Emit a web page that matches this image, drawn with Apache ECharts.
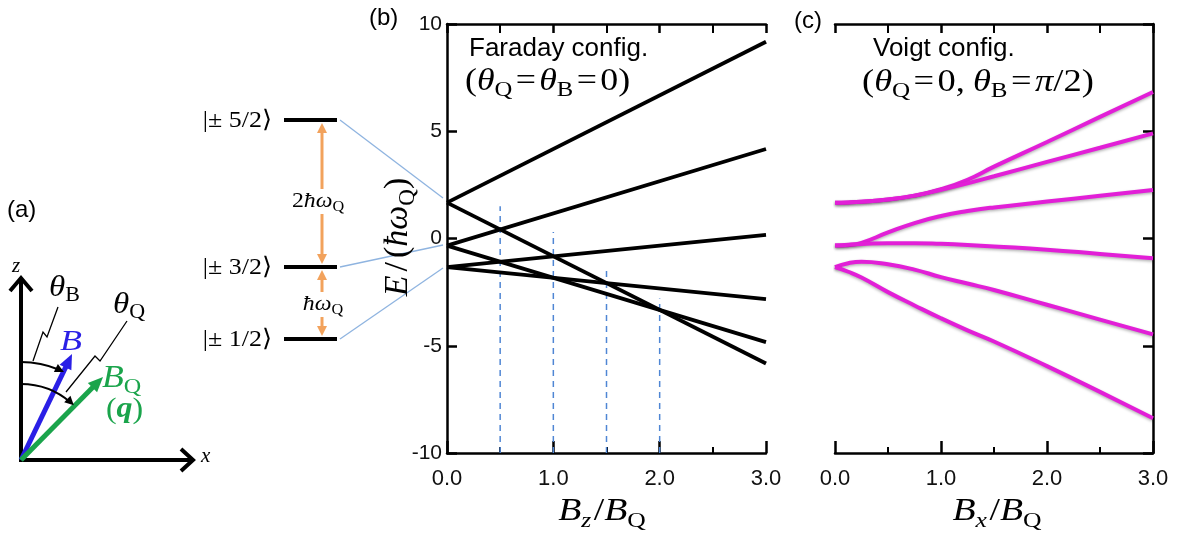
<!DOCTYPE html>
<html>
<head>
<meta charset="utf-8">
<script src="https://cdn.jsdelivr.net/npm/echarts@6/dist/echarts.min.js"></script>
<style>
  html, body { margin: 0; padding: 0; background: #fff; }
  #main { width: 1180px; height: 535px; }
</style>
</head>
<body>
<div id="main"></div>
<script>
// Nuclear spin I = 5/2 : energy levels in units of ħω_Q versus field (units of B_Q)
const fieldRange = [0, 3];
const energyRange = [-10, 10];
const energyStep = 5;
const fieldStep = 1;

// Faraday geometry (field along the quadrupole axis): straight levels
const faradayAtZero = [1.67, 1.67, -0.33, -0.33, -1.33, -1.33];
const faradayAtMax  = [9.17, -5.83, 4.17, -4.83, 0.17, -2.83];

// level crossings marked by dashed guides
const crossingB = [0.5, 1.0, 1.5, 2.0];
const guideTop  = [1.5, 0.3, -1.3, -2.8];

// Voigt geometry (field perpendicular to the quadrupole axis)
const voigtB  = [0, 0.125, 0.25, 0.5, 0.75, 1.0, 1.25, 1.5, 2.0, 2.5, 3.0];
const voigt1  = [1.67, 1.68, 1.71, 1.82, 2.0, 2.3, 2.74, 3.35, 4.5, 5.67, 6.83];
const voigt2  = [1.67, 1.68, 1.71, 1.82, 2.0, 2.27, 2.57, 2.9, 3.57, 4.23, 4.9];
const voigt3  = [-0.33, -0.31, -0.2, 0.28, 0.72, 1.05, 1.28, 1.45, 1.72, 1.99, 2.26];
const voigt4  = [-0.33, -0.29, -0.26, -0.22, -0.22, -0.25, -0.3, -0.37, -0.52, -0.72, -0.92];
const voigt5  = [-1.33, -1.15, -1.08, -1.2, -1.45, -1.8, -2.1, -2.4, -3.09, -3.78, -4.47];
const voigt6  = [-1.33, -1.55, -1.82, -2.5, -3.12, -3.72, -4.28, -4.8, -5.95, -7.15, -8.38];

// zero-field level labels for the scheme on the left
const levelNames = ['|\u00b1 5/2\u27e9', '|\u00b1 3/2\u27e9', '|\u00b1 1/2\u27e9'];

const SERIF = '"Liberation Serif","DejaVu Serif",serif';
const SANS = '"Liberation Sans",Arial,sans-serif';
const BLACK = '#000';
const MAGENTA = '#e21fd7';
const ORANGE = '#f2a25c';
const PALE_BLUE = '#8fb4e0';
const GUIDE_BLUE = '#4f86d4';
const ARROW_BLUE = '#2a1fe6';
const ARROW_GREEN = '#1aa44b';

// ---------- text helpers ----------
const mctx = document.createElement('canvas').getContext('2d');
function textWidth(t, font) { mctx.font = font; return mctx.measureText(t).width; }
function it(t, size, extra) { return Object.assign({ t, font: 'italic ' + size + 'px ' + SERIF }, extra || {}); }
function rm(t, size, extra) { return Object.assign({ t, font: size + 'px ' + SERIF }, extra || {}); }

// lays out a run of text pieces (with sub-scripts) into one group
function formula(parts, x, y, anchor, color, rotation, stretch) {
  let cur = 0;
  const kids = [];
  parts.forEach(p => {
    cur += p.pre || 0;
    kids.push({
      type: 'text', x: cur, y: p.dy || 0, silent: true,
      style: { text: p.t, font: p.font, fill: p.c || color || BLACK,
               textAlign: 'left', textVerticalAlign: 'middle', align: 'left', verticalAlign: 'middle' }
    });
    cur += textWidth(p.t, p.font) + (p.post || 0);
  });
  const shift = anchor === 'center' ? -cur / 2 : anchor === 'right' ? -cur : 0;
  kids.forEach(k => { k.x += shift; });
  return { type: 'group', x, y, rotation: rotation || 0, scaleX: stretch || 1, children: kids, silent: true };
}
function plain(t, x, y, font, color, align) {
  return { type: 'text', x, y, silent: true,
    style: { text: t, font, fill: color || BLACK, textAlign: align || 'left', textVerticalAlign: 'middle',
             align: align || 'left', verticalAlign: 'middle' } };
}
function seg(x1, y1, x2, y2, color, w, extra) {
  return { type: 'line', silent: true, shape: { x1, y1, x2, y2 },
    style: Object.assign({ stroke: color, lineWidth: w, lineCap: 'butt' }, extra || {}) };
}
// filled triangular head with tip at (tx,ty) pointing along (dx,dy)
function head(tx, ty, dx, dy, len, half, color) {
  const n = Math.hypot(dx, dy); const ux = dx / n, uy = dy / n;
  const bx = tx - ux * len, by = ty - uy * len;
  return { type: 'polygon', silent: true,
    shape: { points: [[tx, ty], [bx - uy * half, by + ux * half], [bx + uy * half, by - ux * half]] },
    style: { fill: color } };
}
function arrow(x1, y1, x2, y2, color, w, len, half) {
  const n = Math.hypot(x2 - x1, y2 - y1);
  const ux = (x2 - x1) / n, uy = (y2 - y1) / n;
  return [seg(x1, y1, x2 - ux * len * 0.8, y2 - uy * len * 0.8, color, w), head(x2, y2, ux, uy, len, half, color)];
}
function arcArrow(cx, cy, r, a0, a1, aTip) {
  const rad = d => d * Math.PI / 180;
  const tx = cx + r * Math.cos(rad(aTip)), ty = cy + r * Math.sin(rad(aTip));
  return [
    { type: 'arc', silent: true, shape: { cx, cy, r, startAngle: rad(a0), endAngle: rad(a1), clockwise: true },
      style: { stroke: BLACK, lineWidth: 2, fill: null } },
    head(tx, ty, -Math.sin(rad(aTip)), Math.cos(rad(aTip)), 9, 4.5, BLACK)
  ];
}

// ---------- decorations: coordinate sketch (a) and zero-field scheme ----------
const graphics = [];

// (a) sketch
graphics.push(plain('(a)', 7, 210, '24px ' + SANS));
graphics.push(seg(21, 462, 21, 279, BLACK, 4));
graphics.push({ type: 'polyline', silent: true, shape: { points: [[10, 291], [21, 278], [32, 291]] },
  style: { stroke: BLACK, lineWidth: 4, fill: null } });
graphics.push(seg(19, 460, 191, 460, BLACK, 4));
graphics.push({ type: 'polyline', silent: true, shape: { points: [[181, 449], [193, 460], [181, 471]] },
  style: { stroke: BLACK, lineWidth: 4, fill: null } });
graphics.push(formula([it('z', 21)], 12, 266, 'left'));
graphics.push(formula([it('x', 21)], 201, 456, 'left'));
graphics.push(...arrow(21, 460, 72, 354, ARROW_BLUE, 5, 15, 6.5));
graphics.push(...arrow(21, 460, 103, 377, ARROW_GREEN, 5, 15, 6.5));
graphics.push(...arcArrow(21, 460, 98, -90, -67, -64));
graphics.push(...arcArrow(21, 460, 76, -90, -49, -46));
graphics.push({ type: 'polyline', silent: true, shape: { points: [[58, 307], [47, 337], [43, 332], [33, 361]] },
  style: { stroke: BLACK, lineWidth: 1.3, fill: null } });
graphics.push({ type: 'polyline', silent: true, shape: { points: [[127, 321], [100, 361], [95, 356], [66, 392]] },
  style: { stroke: BLACK, lineWidth: 1.3, fill: null } });
graphics.push(formula([it('\u03b8', 30), rm('B', 20, { dy: 8 })], 49, 288, 'left', BLACK, 0, 1.1));
graphics.push(formula([it('\u03b8', 30), rm('Q', 20, { dy: 8 })], 113, 305, 'left', BLACK, 0, 1.1));
graphics.push(formula([it('B', 30)], 60, 342, 'left', ARROW_BLUE, 0, 1.2));
graphics.push(formula([it('B', 31), rm('Q', 21, { dy: 8 })], 102, 379, 'left', ARROW_GREEN, 0, 1.15));
graphics.push(formula([rm('(', 29), { t: 'q', font: 'italic bold 29px ' + SERIF }, rm(')', 29)], 106, 410, 'left', ARROW_GREEN, 0, 1.1));

// zero-field scheme
const levelY = [120, 267, 339];
levelY.forEach((y, i) => {
  graphics.push({ type: 'rect', silent: true, shape: { x: 284, y: y - 2, width: 53, height: 4 }, style: { fill: BLACK } });
  graphics.push(formula([rm(levelNames[i], 24)], 272, y + 1, 'right', BLACK, 0, 1.08));
});
// quadrupole splittings
graphics.push(seg(322, 132, 322, 255, ORANGE, 3));
graphics.push(head(322, 123, 0, -1, 10, 5, ORANGE));
graphics.push(head(322, 264, 0, 1, 10, 5, ORANGE));
graphics.push(seg(322, 279, 322, 327, ORANGE, 3));
graphics.push(head(322, 270, 0, -1, 10, 5, ORANGE));
graphics.push(head(322, 336, 0, 1, 10, 5, ORANGE));
graphics.push({ type: 'rect', silent: true, shape: { x: 287, y: 189, width: 62, height: 25 }, style: { fill: '#fff' } });
graphics.push({ type: 'rect', silent: true, shape: { x: 299, y: 292, width: 50, height: 25 }, style: { fill: '#fff' } });
graphics.push(formula([rm('2', 22), it('\u0127\u03c9', 22), rm('Q', 15, { dy: 6 })], 318, 201, 'center', BLACK, 0, 1.08));
graphics.push(formula([it('\u0127\u03c9', 22), rm('Q', 15, { dy: 6 })], 323, 304, 'center', BLACK, 0, 1.08));
// links from zero-field levels to the energy axis
graphics.push(seg(340, 120, 443, 198, PALE_BLUE, 1.3));
graphics.push(seg(340, 267, 443, 245, PALE_BLUE, 1.3));
graphics.push(seg(340, 339, 443, 268, PALE_BLUE, 1.3));

// panel captions and titles
graphics.push(plain('(b)', 369, 18, '24px ' + SANS));
graphics.push(plain('(c)', 794, 21, '24px ' + SANS));
graphics.push(plain('Faraday config.', 469, 48.5, '26px ' + SANS));
graphics.push(plain('Voigt config.', 873, 49, '26px ' + SANS));
const eqGap = 3;
graphics.push(formula([
  rm('(', 32), it('\u03b8', 32), rm('Q', 22, { dy: 8.5 }),
  rm('=', 32, { pre: eqGap, post: eqGap }), it('\u03b8', 32), rm('B', 22, { dy: 8.5 }),
  rm('=', 32, { pre: eqGap, post: eqGap }), rm('0', 32), rm(')', 32)
], 465, 82, 'left', BLACK, 0, 1.12));
graphics.push(formula([
  rm('(', 32), it('\u03b8', 32), rm('Q', 22, { dy: 8.5 }),
  rm('=', 32, { pre: eqGap, post: eqGap }), rm('0', 32), rm(',', 32, { post: 7 }),
  it('\u03b8', 32), rm('B', 22, { dy: 8.5 }),
  rm('=', 32, { pre: eqGap, post: eqGap }), it('\u03c0', 32), rm('/', 32), rm('2', 32), rm(')', 32)
], 862, 83, 'left', BLACK, 0, 1.14));

// axis titles
graphics.push(formula([it('B', 31), it('z', 21, { dy: 9, post: 2 }), rm('/', 31), it('B', 31), rm('Q', 21, { dy: 9 })],
  602, 512, 'center', BLACK, 0, 1.22));
graphics.push(formula([it('B', 31), it('x', 21, { dy: 9, post: 2 }), rm('/', 31), it('B', 31), rm('Q', 21, { dy: 9 })],
  997, 512, 'center', BLACK, 0, 1.22));
graphics.push(formula([it('E', 34), rm('/', 34, { pre: 4, post: 4 }), rm('(', 34), it('\u0127\u03c9', 34),
  rm('Q', 23, { dy: 10 }), rm(')', 34)], 398, 237, 'center', BLACK, Math.PI / 2));

// ---------- chart ----------
const axisColor = '#000';
function xAxisFor(grid, pos, labels) {
  return {
    type: 'value', gridIndex: grid, position: pos, min: fieldRange[0], max: fieldRange[1], interval: fieldStep,
    axisLine: { show: true, onZero: false, lineStyle: { color: axisColor, width: 2.5 } },
    axisTick: { show: true, inside: true, interval: 0, length: labels ? 12 : 9, lineStyle: { color: axisColor, width: 2.5 } },
    minorTick: { show: true, splitNumber: 2, length: labels ? 6 : 9, lineStyle: { color: axisColor, width: 2 } },
    axisLabel: { show: labels, formatter: v => v.toFixed(1), fontFamily: SANS, fontSize: 22, color: '#111', margin: 15 },
    splitLine: { show: false }, minorSplitLine: { show: false }
  };
}
function yAxisFor(grid, pos, labels) {
  return {
    type: 'value', gridIndex: grid, position: pos, min: energyRange[0], max: energyRange[1], interval: energyStep,
    axisLine: { show: true, onZero: false, lineStyle: { color: axisColor, width: 2.5 } },
    axisTick: { show: true, inside: true, interval: 0, length: 10, lineStyle: { color: axisColor, width: 2.5 } },
    axisLabel: { show: labels, fontFamily: SANS, fontSize: 21, color: '#111', margin: 5,
                 showMinLabel: true, showMaxLabel: true },
    splitLine: { show: false }
  };
}

const series = [];
crossingB.forEach((b, i) => {
  series.push({
    type: 'line', xAxisIndex: 0, yAxisIndex: 0, silent: true, symbol: 'none', z: 2,
    data: [[b, energyRange[0]], [b, guideTop[i]]],
    lineStyle: { color: GUIDE_BLUE, width: 1.5, type: [6, 5] }
  });
});
faradayAtZero.forEach((e0, i) => {
  series.push({
    type: 'line', xAxisIndex: 0, yAxisIndex: 0, silent: true, symbol: 'none', z: 3,
    data: [[fieldRange[0], e0], [fieldRange[1], faradayAtMax[i]]],
    lineStyle: { color: BLACK, width: 3.8 }
  });
});
[voigt1, voigt2, voigt3, voigt4, voigt5, voigt6].forEach(curve => {
  series.push({
    type: 'line', xAxisIndex: 2, yAxisIndex: 1, silent: true, symbol: 'none', z: 3,
    smooth: 0.5,
    data: voigtB.map((b, j) => [b, curve[j]]),
    lineStyle: { color: MAGENTA, width: 4, shadowColor: 'rgba(0,0,0,0.3)', shadowBlur: 3, shadowOffsetY: 1.5 }
  });
});

const chart = echarts.init(document.getElementById('main'), null, { renderer: 'canvas' });
chart.setOption({
  animation: false,
  backgroundColor: '#fff',
  grid: [
    { left: 447, top: 24, width: 319, height: 429 },
    { left: 835, top: 24, width: 318, height: 429 }
  ],
  xAxis: [xAxisFor(0, 'bottom', true), xAxisFor(0, 'top', false), xAxisFor(1, 'bottom', true), xAxisFor(1, 'top', false)],
  yAxis: [yAxisFor(0, 'left', true), yAxisFor(1, 'right', false)],
  series,
  graphic: graphics
});
</script>
</body>
</html>
